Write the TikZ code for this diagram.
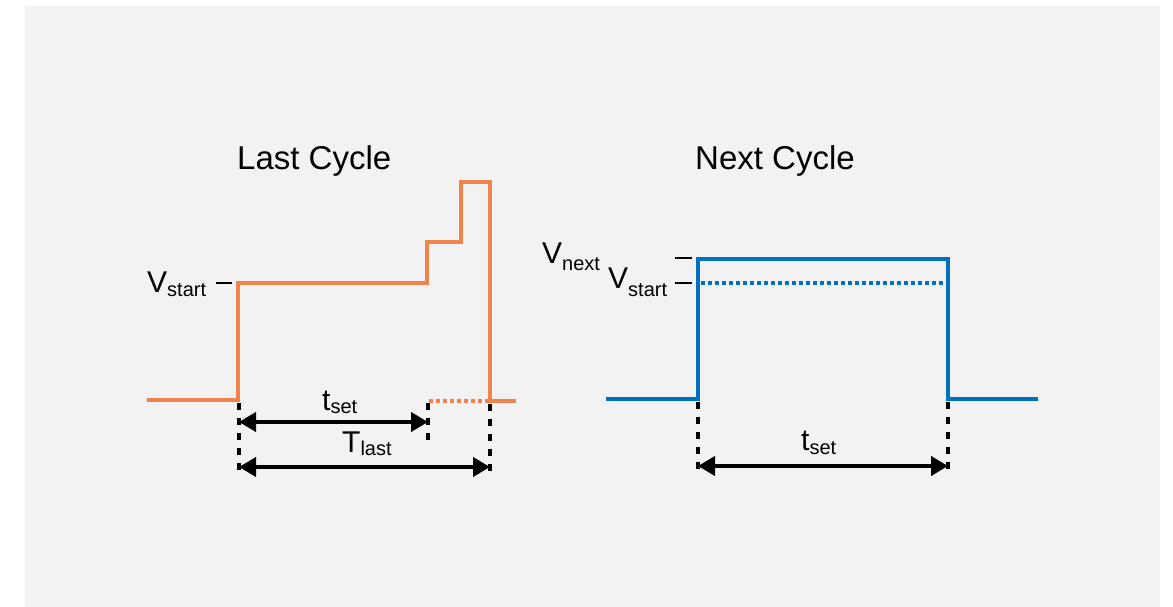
\documentclass[tikz,border=0pt]{standalone}
\usepackage{fontspec}
\setmainfont{Liberation Sans}
\usetikzlibrary{arrows.meta}
\definecolor{bgc}{HTML}{F2F2F2}
\definecolor{orng}{RGB}{240,130,75}
\definecolor{blu}{RGB}{0,112,192}
\newcommand{\sublbl}[3]{{\fontsize{30}{30}\selectfont #1}\raisebox{-#3pt}{\fontsize{20}{20}\selectfont #2}}
\begin{document}
\begin{tikzpicture}[x=1pt,y=-1pt,
  wave/.style={line width=3.5pt, line join=miter},
  dimline/.style={black, line width=4pt, dash pattern=on 7pt off 8pt},
  dimarrow/.style={black, line width=4pt, {Triangle[length=17pt,width=19pt]}-{Triangle[length=17pt,width=19pt]}},
  tickmark/.style={black, line width=2pt},
  dotline/.style={line width=3.5pt, dash pattern=on 3.5pt off 3.5pt},
  lbl/.style={anchor=base west, inner sep=0pt, text=black},
  title/.style={anchor=base west, inner sep=0pt, font=\fontsize{33}{33}\selectfont}]
\useasboundingbox (0,0) rectangle (1173,607);
\fill[bgc] (25,6) rectangle (1160,607);

% titles
\node[title] (tlast) at (237,169) {Last Cycle};
\node[title] (tnext) at (695,169) {Next Cycle};

% ---- Last cycle ----
\coordinate (a0) at (147,400);
\coordinate (a1) at (238,400);
\coordinate (a2) at (238,283);
\coordinate (a3) at (427,283);
\coordinate (a4) at (427,242);
\coordinate (a5) at (461,242);
\coordinate (a6) at (461,182);
\coordinate (a7) at (490,182);
\coordinate (a8) at (490,401);
\coordinate (a9) at (516,401);
\coordinate (ad) at (429,401);
\draw[wave, orng] (a0) -- (a1) -- (a2) -- (a3) -- (a4) -- (a5) -- (a6) -- (a7) -- (a8) -- (a9);
\draw[dotline, orng] (ad) -- (a8);

\node[lbl] (vs1) at (147,292) {\sublbl{V}{start}{4}};
\coordinate (k1a) at (216,283);
\coordinate (k1b) at (232,283);
\draw[tickmark] (k1a) -- (k1b);

\coordinate (d1t) at (239,403);
\coordinate (d1b) at (239,473);
\coordinate (d2t) at (428,403);
\coordinate (d2b) at (428,444);
\coordinate (d3t) at (490,404);
\coordinate (d3b) at (490,473);
\draw[dimline] (d1t) -- (d1b);
\draw[dimline] (d2t) -- (d2b);
\draw[dimline] (d3t) -- (d3b);

\coordinate (r1a) at (239,422);
\coordinate (r1b) at (428,422);
\coordinate (r2a) at (239,467);
\coordinate (r2b) at (490,467);
\draw[dimarrow] (r1a) -- (r1b);
\draw[dimarrow] (r2a) -- (r2b);
\node[lbl] (ts1) at (322,410) {\sublbl{t}{set}{3}};
\node[lbl] (tl1) at (342,452) {\sublbl{T}{last}{3}};

% ---- Next cycle ----
\coordinate (b0) at (606,399);
\coordinate (b1) at (698,399);
\coordinate (b2) at (698,259);
\coordinate (b3) at (948,259);
\coordinate (b4) at (948,399);
\coordinate (b5) at (1038,399);
\coordinate (bs1) at (701,283);
\coordinate (bs2) at (946,283);
\draw[wave, blu] (b0) -- (b1) -- (b2) -- (b3) -- (b4) -- (b5);
\draw[dotline, blu] (bs1) -- (bs2);

\node[lbl] (vn) at (542,263) {\sublbl{V}{next}{7}};
\node[lbl] (vs2) at (608,288) {\sublbl{V}{start}{8}};
\coordinate (k2a) at (675,258);
\coordinate (k2b) at (692,258);
\coordinate (k3a) at (675,283);
\coordinate (k3b) at (692,283);
\draw[tickmark] (k2a) -- (k2b);
\draw[tickmark] (k3a) -- (k3b);

\coordinate (e1t) at (698,402);
\coordinate (e1b) at (698,473);
\coordinate (e2t) at (948,402);
\coordinate (e2b) at (948,473);
\draw[dimline] (e1t) -- (e1b);
\draw[dimline] (e2t) -- (e2b);
\coordinate (r3a) at (698,466);
\coordinate (r3b) at (948,466);
\draw[dimarrow] (r3a) -- (r3b);
\node[lbl] (ts2) at (801,450) {\sublbl{t}{set}{4}};
\end{tikzpicture}
\end{document}
